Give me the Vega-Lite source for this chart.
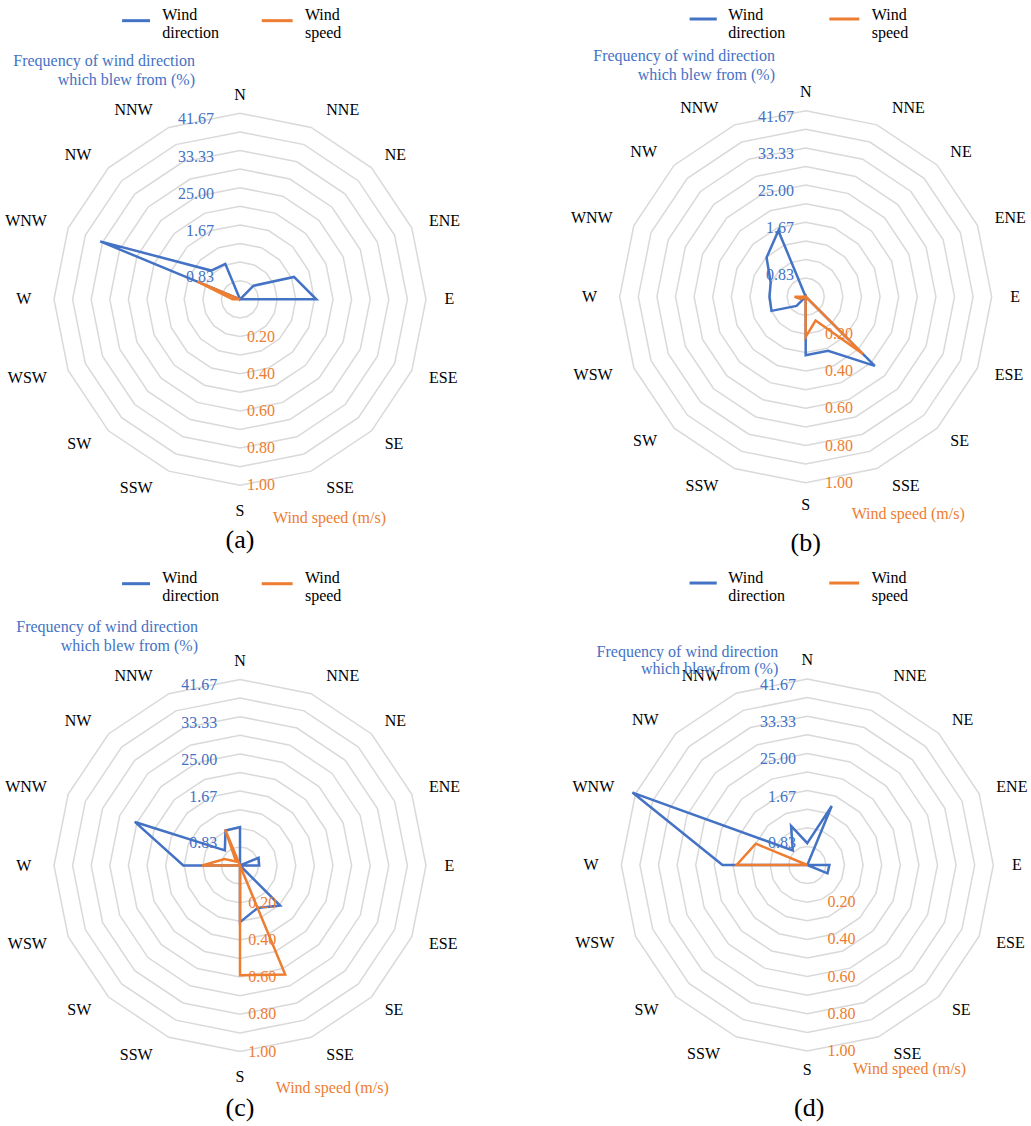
{
"$schema":"https://vega.github.io/schema/vega-lite/v6.json",
"background":"white",
"padding":0,
"spacing":0,
"columns":2,
"bounds":"flush",
"config":{"view":{"stroke":null},"text":{"font":"Liberation Serif","fontSize":16},"concat":{"spacing":0}},
"datasets":{
"rings":[{"k":1,"i":[0,1,2,3,4,5,6,7,8,9,10,11,12,13,14,15]},{"k":2,"i":[0,1,2,3,4,5,6,7,8,9,10,11,12,13,14,15]},{"k":3,"i":[0,1,2,3,4,5,6,7,8,9,10,11,12,13,14,15]},{"k":4,"i":[0,1,2,3,4,5,6,7,8,9,10,11,12,13,14,15]},{"k":5,"i":[0,1,2,3,4,5,6,7,8,9,10,11,12,13,14,15]},{"k":6,"i":[0,1,2,3,4,5,6,7,8,9,10,11,12,13,14,15]},{"k":7,"i":[0,1,2,3,4,5,6,7,8,9,10,11,12,13,14,15]},{"k":8,"i":[0,1,2,3,4,5,6,7,8,9,10,11,12,13,14,15]},{"k":9,"i":[0,1,2,3,4,5,6,7,8,9,10,11,12,13,14,15]},{"k":10,"i":[0,1,2,3,4,5,6,7,8,9,10,11,12,13,14,15]}],
"dirs":[{"d":"N","i":0},{"d":"NNE","i":1},{"d":"NE","i":2},{"d":"ENE","i":3},{"d":"E","i":4},{"d":"ESE","i":5},{"d":"SE","i":6},{"d":"SSE","i":7},{"d":"S","i":8},{"d":"SSW","i":9},{"d":"SW","i":10},{"d":"WSW","i":11},{"d":"W","i":12},{"d":"WNW","i":13},{"d":"NW","i":14},{"d":"NNW","i":15}],
"wa":[{"d":"N","i":0,"f":0,"s":0},{"d":"NNE","i":1,"f":0,"s":0},{"d":"NE","i":2,"f":4.3,"s":0},{"d":"ENE","i":3,"f":13.1,"s":0},{"d":"E","i":4,"f":17.1,"s":0},{"d":"ESE","i":5,"f":0,"s":0},{"d":"SE","i":6,"f":0,"s":0},{"d":"SSE","i":7,"f":0,"s":0},{"d":"S","i":8,"f":0,"s":0},{"d":"SSW","i":9,"f":0,"s":0},{"d":"SW","i":10,"f":0,"s":0},{"d":"WSW","i":11,"f":0,"s":0},{"d":"W","i":12,"f":0,"s":0.04},{"d":"WNW","i":13,"f":33.9,"s":0.25},{"d":"NW","i":14,"f":9.1,"s":0},{"d":"NNW","i":15,"f":8.6,"s":0}],
"wb":[{"d":"N","i":0,"f":0,"s":0},{"d":"NNE","i":1,"f":0,"s":0},{"d":"NE","i":2,"f":0,"s":0},{"d":"ENE","i":3,"f":0,"s":0},{"d":"E","i":4,"f":0,"s":0},{"d":"ESE","i":5,"f":0,"s":0},{"d":"SE","i":6,"f":21.9,"s":0.436},{"d":"SSE","i":7,"f":13.1,"s":0.139},{"d":"S","i":8,"f":13.1,"s":0.216},{"d":"SSW","i":9,"f":0,"s":0},{"d":"SW","i":10,"f":2.9,"s":0},{"d":"WSW","i":11,"f":8.3,"s":0.03},{"d":"W","i":12,"f":8.1,"s":0.06},{"d":"WNW","i":13,"f":8.5,"s":0},{"d":"NW","i":14,"f":12.4,"s":0},{"d":"NNW","i":15,"f":16.0,"s":0}],
"wc":[{"d":"N","i":0,"f":8.6,"s":0},{"d":"NNE","i":1,"f":0,"s":0},{"d":"NE","i":2,"f":0,"s":0},{"d":"ENE","i":3,"f":4.5,"s":0},{"d":"E","i":4,"f":4.3,"s":0},{"d":"ESE","i":5,"f":0,"s":0},{"d":"SE","i":6,"f":12.7,"s":0},{"d":"SSE","i":7,"f":10.3,"s":0.635},{"d":"S","i":8,"f":12.7,"s":0.59},{"d":"SSW","i":9,"f":0,"s":0},{"d":"SW","i":10,"f":0,"s":0},{"d":"WSW","i":11,"f":0,"s":0},{"d":"W","i":12,"f":12.7,"s":0.203},{"d":"WNW","i":13,"f":25.5,"s":0.09},{"d":"NW","i":14,"f":4.8,"s":0.03},{"d":"NNW","i":15,"f":8.5,"s":0.209}],
"wd":[{"d":"N","i":0,"f":4.9,"s":0},{"d":"NNE","i":1,"f":14.3,"s":0},{"d":"NE","i":2,"f":0,"s":0},{"d":"ENE","i":3,"f":0,"s":0},{"d":"E","i":4,"f":4.95,"s":0},{"d":"ESE","i":5,"f":4.9,"s":0},{"d":"SE","i":6,"f":0,"s":0},{"d":"SSE","i":7,"f":0,"s":0},{"d":"S","i":8,"f":0,"s":0},{"d":"SSW","i":9,"f":0,"s":0},{"d":"SW","i":10,"f":0,"s":0},{"d":"WSW","i":11,"f":0,"s":0},{"d":"W","i":12,"f":19.0,"s":0.38},{"d":"WNW","i":13,"f":42.4,"s":0.30},{"d":"NW","i":14,"f":4.6,"s":0},{"d":"NNW","i":15,"f":9.5,"s":0}],
"fticks":[{"t":"41.67","v":41.67},{"t":"33.33","v":33.33},{"t":"25.00","v":25},{"t":"1.67","v":16.67},{"t":"0.83","v":8.33}],
"sticks":[{"t":"0.20","v":0.2},{"t":"0.40","v":0.4},{"t":"0.60","v":0.6},{"t":"0.80","v":0.8},{"t":"1.00","v":1}]
},
"concat":[
{"width":515,"height":563,"layer":[
{"data":{"name":"rings"},"transform":[{"flatten":["i"]},{"calculate":"datum.i*PI/8","as":"ang"},{"calculate":"datum.k/10*sin(datum.ang)","as":"x"},{"calculate":"datum.k/10*cos(datum.ang)","as":"y"}],"mark":{"type":"line","interpolate":"linear-closed","stroke":"#D9D9D9","strokeWidth":1.5},"encoding":{"x":{"field":"x","type":"quantitative","scale":{"domain":[-1.2903,1.4785],"nice":false,"zero":false},"axis":null},"y":{"field":"y","type":"quantitative","scale":{"domain":[-1.4177,1.6091],"nice":false,"zero":false},"axis":null},"detail":{"field":"k","type":"nominal"},"order":{"field":"i","type":"quantitative"}}},
{"data":{"name":"wa"},"transform":[{"calculate":"datum.i*PI/8","as":"ang"},{"calculate":"datum.f/41.67*sin(datum.ang)","as":"x"},{"calculate":"datum.f/41.67*cos(datum.ang)","as":"y"}],"mark":{"type":"line","interpolate":"linear-closed","stroke":"#4472C4","strokeWidth":2.5},"encoding":{"x":{"field":"x","type":"quantitative","scale":{"domain":[-1.2903,1.4785],"nice":false,"zero":false},"axis":null},"y":{"field":"y","type":"quantitative","scale":{"domain":[-1.4177,1.6091],"nice":false,"zero":false},"axis":null},"order":{"field":"i","type":"quantitative"}}},
{"data":{"name":"wa"},"transform":[{"calculate":"datum.i*PI/8","as":"ang"},{"calculate":"datum.s*sin(datum.ang)","as":"x"},{"calculate":"datum.s*cos(datum.ang)","as":"y"}],"mark":{"type":"line","interpolate":"linear-closed","stroke":"#ED7D31","strokeWidth":2.5},"encoding":{"x":{"field":"x","type":"quantitative","scale":{"domain":[-1.2903,1.4785],"nice":false,"zero":false},"axis":null},"y":{"field":"y","type":"quantitative","scale":{"domain":[-1.4177,1.6091],"nice":false,"zero":false},"axis":null},"order":{"field":"i","type":"quantitative"}}},
{"data":{"name":"dirs"},"transform":[{"filter":"datum.i==0"},{"calculate":"datum.i*PI/8","as":"ang"},{"calculate":"1.1*sin(datum.ang)","as":"x"},{"calculate":"1.1*cos(datum.ang)","as":"y"}],"mark":{"type":"text","align":"center","baseline":"middle","fill":"#000"},"encoding":{"x":{"field":"x","type":"quantitative","scale":{"domain":[-1.2903,1.4785],"nice":false,"zero":false},"axis":null},"y":{"field":"y","type":"quantitative","scale":{"domain":[-1.4177,1.6091],"nice":false,"zero":false},"axis":null},"text":{"field":"d","type":"nominal"}}},
{"data":{"name":"dirs"},"transform":[{"filter":"datum.i==8"},{"calculate":"datum.i*PI/8","as":"ang"},{"calculate":"1.1*sin(datum.ang)","as":"x"},{"calculate":"1.1*cos(datum.ang)","as":"y"}],"mark":{"type":"text","align":"center","baseline":"middle","fill":"#000","dy":7},"encoding":{"x":{"field":"x","type":"quantitative","scale":{"domain":[-1.2903,1.4785],"nice":false,"zero":false},"axis":null},"y":{"field":"y","type":"quantitative","scale":{"domain":[-1.4177,1.6091],"nice":false,"zero":false},"axis":null},"text":{"field":"d","type":"nominal"}}},
{"data":{"name":"dirs"},"transform":[{"filter":"datum.i==1||datum.i==7"},{"calculate":"datum.i*PI/8","as":"ang"},{"calculate":"1.1*sin(datum.ang)","as":"x"},{"calculate":"1.1*cos(datum.ang)","as":"y"}],"mark":{"type":"text","align":"left","baseline":"middle","fill":"#000","dx":8},"encoding":{"x":{"field":"x","type":"quantitative","scale":{"domain":[-1.2903,1.4785],"nice":false,"zero":false},"axis":null},"y":{"field":"y","type":"quantitative","scale":{"domain":[-1.4177,1.6091],"nice":false,"zero":false},"axis":null},"text":{"field":"d","type":"nominal"}}},
{"data":{"name":"dirs"},"transform":[{"filter":"datum.i>=2&&datum.i<=6"},{"calculate":"datum.i*PI/8","as":"ang"},{"calculate":"1.1*sin(datum.ang)","as":"x"},{"calculate":"1.1*cos(datum.ang)","as":"y"}],"mark":{"type":"text","align":"left","baseline":"middle","fill":"#000"},"encoding":{"x":{"field":"x","type":"quantitative","scale":{"domain":[-1.2903,1.4785],"nice":false,"zero":false},"axis":null},"y":{"field":"y","type":"quantitative","scale":{"domain":[-1.4177,1.6091],"nice":false,"zero":false},"axis":null},"text":{"field":"d","type":"nominal"}}},
{"data":{"name":"dirs"},"transform":[{"filter":"datum.i==9||datum.i==15"},{"calculate":"datum.i*PI/8","as":"ang"},{"calculate":"1.1*sin(datum.ang)","as":"x"},{"calculate":"1.1*cos(datum.ang)","as":"y"}],"mark":{"type":"text","align":"right","baseline":"middle","fill":"#000","dx":-9},"encoding":{"x":{"field":"x","type":"quantitative","scale":{"domain":[-1.2903,1.4785],"nice":false,"zero":false},"axis":null},"y":{"field":"y","type":"quantitative","scale":{"domain":[-1.4177,1.6091],"nice":false,"zero":false},"axis":null},"text":{"field":"d","type":"nominal"}}},
{"data":{"name":"dirs"},"transform":[{"filter":"datum.i>=10&&datum.i<=14"},{"calculate":"datum.i*PI/8","as":"ang"},{"calculate":"1.1*sin(datum.ang)","as":"x"},{"calculate":"1.1*cos(datum.ang)","as":"y"}],"mark":{"type":"text","align":"right","baseline":"middle","fill":"#000","dx":-4},"encoding":{"x":{"field":"x","type":"quantitative","scale":{"domain":[-1.2903,1.4785],"nice":false,"zero":false},"axis":null},"y":{"field":"y","type":"quantitative","scale":{"domain":[-1.4177,1.6091],"nice":false,"zero":false},"axis":null},"text":{"field":"d","type":"nominal"}}},
{"data":{"name":"fticks"},"transform":[{"filter":"datum.v>10"},{"calculate":"datum.v/41.67","as":"y"}],"mark":{"type":"text","align":"right","baseline":"middle","fill":"#4472C4","dy":6},"encoding":{"x":{"datum":-0.14,"type":"quantitative","scale":{"domain":[-1.2903,1.4785],"nice":false,"zero":false},"axis":null},"y":{"field":"y","type":"quantitative","scale":{"domain":[-1.4177,1.6091],"nice":false,"zero":false},"axis":null},"text":{"field":"t","type":"nominal"}}},
{"data":{"name":"fticks"},"transform":[{"filter":"datum.v<10"},{"calculate":"datum.v/41.67","as":"y"}],"mark":{"type":"text","align":"right","baseline":"middle","fill":"#4472C4","dy":15},"encoding":{"x":{"datum":-0.14,"type":"quantitative","scale":{"domain":[-1.2903,1.4785],"nice":false,"zero":false},"axis":null},"y":{"field":"y","type":"quantitative","scale":{"domain":[-1.4177,1.6091],"nice":false,"zero":false},"axis":null},"text":{"field":"t","type":"nominal"}}},
{"data":{"name":"sticks"},"transform":[{"calculate":"-datum.v","as":"y"}],"mark":{"type":"text","align":"left","baseline":"middle","fill":"#ED7D31"},"encoding":{"x":{"datum":0.038,"type":"quantitative","scale":{"domain":[-1.2903,1.4785],"nice":false,"zero":false},"axis":null},"y":{"field":"y","type":"quantitative","scale":{"domain":[-1.4177,1.6091],"nice":false,"zero":false},"axis":null},"text":{"field":"t","type":"nominal"}}},
{"data":{"values":[{}]},"mark":{"type":"rule","stroke":"#4472C4","strokeWidth":3},"encoding":{"x":{"datum":-0.634,"type":"quantitative","scale":{"domain":[-1.2903,1.4785],"nice":false,"zero":false},"axis":null},"x2":{"datum":-0.484},"y":{"datum":1.498,"type":"quantitative","scale":{"domain":[-1.4177,1.6091],"nice":false,"zero":false},"axis":null}}},
{"data":{"values":[{}]},"mark":{"type":"rule","stroke":"#ED7D31","strokeWidth":3},"encoding":{"x":{"datum":0.117,"type":"quantitative","scale":{"domain":[-1.2903,1.4785],"nice":false,"zero":false},"axis":null},"x2":{"datum":0.283},"y":{"datum":1.498,"type":"quantitative","scale":{"domain":[-1.4177,1.6091],"nice":false,"zero":false},"axis":null}}},
{"data":{"values":[{}]},"mark":{"type":"text","align":"left","baseline":"middle","fill":"#000"},"encoding":{"x":{"datum":-0.418,"type":"quantitative","scale":{"domain":[-1.2903,1.4785],"nice":false,"zero":false},"axis":null},"y":{"datum":1.529,"type":"quantitative","scale":{"domain":[-1.4177,1.6091],"nice":false,"zero":false},"axis":null},"text":{"value":"Wind"}}},
{"data":{"values":[{}]},"mark":{"type":"text","align":"left","baseline":"middle","fill":"#000"},"encoding":{"x":{"datum":-0.418,"type":"quantitative","scale":{"domain":[-1.2903,1.4785],"nice":false,"zero":false},"axis":null},"y":{"datum":1.43,"type":"quantitative","scale":{"domain":[-1.4177,1.6091],"nice":false,"zero":false},"axis":null},"text":{"value":"direction"}}},
{"data":{"values":[{}]},"mark":{"type":"text","align":"left","baseline":"middle","fill":"#000"},"encoding":{"x":{"datum":0.349,"type":"quantitative","scale":{"domain":[-1.2903,1.4785],"nice":false,"zero":false},"axis":null},"y":{"datum":1.529,"type":"quantitative","scale":{"domain":[-1.4177,1.6091],"nice":false,"zero":false},"axis":null},"text":{"value":"Wind"}}},
{"data":{"values":[{}]},"mark":{"type":"text","align":"left","baseline":"middle","fill":"#000"},"encoding":{"x":{"datum":0.349,"type":"quantitative","scale":{"domain":[-1.2903,1.4785],"nice":false,"zero":false},"axis":null},"y":{"datum":1.43,"type":"quantitative","scale":{"domain":[-1.4177,1.6091],"nice":false,"zero":false},"axis":null},"text":{"value":"speed"}}},
{"data":{"values":[{}]},"mark":{"type":"text","align":"right","baseline":"middle","fill":"#4472C4"},"encoding":{"x":{"datum":-0.242,"type":"quantitative","scale":{"domain":[-1.2903,1.4785],"nice":false,"zero":false},"axis":null},"y":{"datum":1.283,"type":"quantitative","scale":{"domain":[-1.4177,1.6091],"nice":false,"zero":false},"axis":null},"text":{"value":"Frequency of wind direction"}}},
{"data":{"values":[{}]},"mark":{"type":"text","align":"right","baseline":"middle","fill":"#4472C4"},"encoding":{"x":{"datum":-0.242,"type":"quantitative","scale":{"domain":[-1.2903,1.4785],"nice":false,"zero":false},"axis":null},"y":{"datum":1.179,"type":"quantitative","scale":{"domain":[-1.4177,1.6091],"nice":false,"zero":false},"axis":null},"text":{"value":"which blew from (%)"}}},
{"data":{"values":[{}]},"mark":{"type":"text","align":"left","baseline":"middle","fill":"#ED7D31"},"encoding":{"x":{"datum":0.177,"type":"quantitative","scale":{"domain":[-1.2903,1.4785],"nice":false,"zero":false},"axis":null},"y":{"datum":-1.177,"type":"quantitative","scale":{"domain":[-1.4177,1.6091],"nice":false,"zero":false},"axis":null},"text":{"value":"Wind speed (m/s)"}}},
{"data":{"values":[{}]},"mark":{"type":"text","align":"center","baseline":"middle","fill":"#000","fontSize":26},"encoding":{"x":{"datum":0,"type":"quantitative","scale":{"domain":[-1.2903,1.4785],"nice":false,"zero":false},"axis":null},"y":{"datum":-1.296,"type":"quantitative","scale":{"domain":[-1.4177,1.6091],"nice":false,"zero":false},"axis":null},"text":{"value":"(a)"}}}
]},
{"width":516,"height":563,"layer":[
{"data":{"name":"rings"},"transform":[{"flatten":["i"]},{"calculate":"datum.i*PI/8","as":"ang"},{"calculate":"datum.k/10*sin(datum.ang)","as":"x"},{"calculate":"datum.k/10*cos(datum.ang)","as":"y"}],"mark":{"type":"line","interpolate":"linear-closed","stroke":"#D9D9D9","strokeWidth":1.5},"encoding":{"x":{"field":"x","type":"quantitative","scale":{"domain":[-1.5629,1.2113],"nice":false,"zero":false},"axis":null},"y":{"field":"y","type":"quantitative","scale":{"domain":[-1.4317,1.5952],"nice":false,"zero":false},"axis":null},"detail":{"field":"k","type":"nominal"},"order":{"field":"i","type":"quantitative"}}},
{"data":{"name":"wb"},"transform":[{"calculate":"datum.i*PI/8","as":"ang"},{"calculate":"datum.f/41.67*sin(datum.ang)","as":"x"},{"calculate":"datum.f/41.67*cos(datum.ang)","as":"y"}],"mark":{"type":"line","interpolate":"linear-closed","stroke":"#4472C4","strokeWidth":2.5},"encoding":{"x":{"field":"x","type":"quantitative","scale":{"domain":[-1.5629,1.2113],"nice":false,"zero":false},"axis":null},"y":{"field":"y","type":"quantitative","scale":{"domain":[-1.4317,1.5952],"nice":false,"zero":false},"axis":null},"order":{"field":"i","type":"quantitative"}}},
{"data":{"name":"wb"},"transform":[{"calculate":"datum.i*PI/8","as":"ang"},{"calculate":"datum.s*sin(datum.ang)","as":"x"},{"calculate":"datum.s*cos(datum.ang)","as":"y"}],"mark":{"type":"line","interpolate":"linear-closed","stroke":"#ED7D31","strokeWidth":2.5},"encoding":{"x":{"field":"x","type":"quantitative","scale":{"domain":[-1.5629,1.2113],"nice":false,"zero":false},"axis":null},"y":{"field":"y","type":"quantitative","scale":{"domain":[-1.4317,1.5952],"nice":false,"zero":false},"axis":null},"order":{"field":"i","type":"quantitative"}}},
{"data":{"name":"dirs"},"transform":[{"filter":"datum.i==0"},{"calculate":"datum.i*PI/8","as":"ang"},{"calculate":"1.1*sin(datum.ang)","as":"x"},{"calculate":"1.1*cos(datum.ang)","as":"y"}],"mark":{"type":"text","align":"center","baseline":"middle","fill":"#000"},"encoding":{"x":{"field":"x","type":"quantitative","scale":{"domain":[-1.5629,1.2113],"nice":false,"zero":false},"axis":null},"y":{"field":"y","type":"quantitative","scale":{"domain":[-1.4317,1.5952],"nice":false,"zero":false},"axis":null},"text":{"field":"d","type":"nominal"}}},
{"data":{"name":"dirs"},"transform":[{"filter":"datum.i==8"},{"calculate":"datum.i*PI/8","as":"ang"},{"calculate":"1.1*sin(datum.ang)","as":"x"},{"calculate":"1.1*cos(datum.ang)","as":"y"}],"mark":{"type":"text","align":"center","baseline":"middle","fill":"#000","dy":4},"encoding":{"x":{"field":"x","type":"quantitative","scale":{"domain":[-1.5629,1.2113],"nice":false,"zero":false},"axis":null},"y":{"field":"y","type":"quantitative","scale":{"domain":[-1.4317,1.5952],"nice":false,"zero":false},"axis":null},"text":{"field":"d","type":"nominal"}}},
{"data":{"name":"dirs"},"transform":[{"filter":"datum.i==1||datum.i==7"},{"calculate":"datum.i*PI/8","as":"ang"},{"calculate":"1.1*sin(datum.ang)","as":"x"},{"calculate":"1.1*cos(datum.ang)","as":"y"}],"mark":{"type":"text","align":"left","baseline":"middle","fill":"#000","dx":8},"encoding":{"x":{"field":"x","type":"quantitative","scale":{"domain":[-1.5629,1.2113],"nice":false,"zero":false},"axis":null},"y":{"field":"y","type":"quantitative","scale":{"domain":[-1.4317,1.5952],"nice":false,"zero":false},"axis":null},"text":{"field":"d","type":"nominal"}}},
{"data":{"name":"dirs"},"transform":[{"filter":"datum.i>=2&&datum.i<=6"},{"calculate":"datum.i*PI/8","as":"ang"},{"calculate":"1.1*sin(datum.ang)","as":"x"},{"calculate":"1.1*cos(datum.ang)","as":"y"}],"mark":{"type":"text","align":"left","baseline":"middle","fill":"#000"},"encoding":{"x":{"field":"x","type":"quantitative","scale":{"domain":[-1.5629,1.2113],"nice":false,"zero":false},"axis":null},"y":{"field":"y","type":"quantitative","scale":{"domain":[-1.4317,1.5952],"nice":false,"zero":false},"axis":null},"text":{"field":"d","type":"nominal"}}},
{"data":{"name":"dirs"},"transform":[{"filter":"datum.i==9||datum.i==15"},{"calculate":"datum.i*PI/8","as":"ang"},{"calculate":"1.1*sin(datum.ang)","as":"x"},{"calculate":"1.1*cos(datum.ang)","as":"y"}],"mark":{"type":"text","align":"right","baseline":"middle","fill":"#000","dx":-9},"encoding":{"x":{"field":"x","type":"quantitative","scale":{"domain":[-1.5629,1.2113],"nice":false,"zero":false},"axis":null},"y":{"field":"y","type":"quantitative","scale":{"domain":[-1.4317,1.5952],"nice":false,"zero":false},"axis":null},"text":{"field":"d","type":"nominal"}}},
{"data":{"name":"dirs"},"transform":[{"filter":"datum.i>=10&&datum.i<=14"},{"calculate":"datum.i*PI/8","as":"ang"},{"calculate":"1.1*sin(datum.ang)","as":"x"},{"calculate":"1.1*cos(datum.ang)","as":"y"}],"mark":{"type":"text","align":"right","baseline":"middle","fill":"#000","dx":-4},"encoding":{"x":{"field":"x","type":"quantitative","scale":{"domain":[-1.5629,1.2113],"nice":false,"zero":false},"axis":null},"y":{"field":"y","type":"quantitative","scale":{"domain":[-1.4317,1.5952],"nice":false,"zero":false},"axis":null},"text":{"field":"d","type":"nominal"}}},
{"data":{"name":"fticks"},"transform":[{"filter":"datum.v>10"},{"calculate":"datum.v/41.67","as":"y"}],"mark":{"type":"text","align":"right","baseline":"middle","fill":"#4472C4","dy":6},"encoding":{"x":{"datum":-0.063,"type":"quantitative","scale":{"domain":[-1.5629,1.2113],"nice":false,"zero":false},"axis":null},"y":{"field":"y","type":"quantitative","scale":{"domain":[-1.4317,1.5952],"nice":false,"zero":false},"axis":null},"text":{"field":"t","type":"nominal"}}},
{"data":{"name":"fticks"},"transform":[{"filter":"datum.v<10"},{"calculate":"datum.v/41.67","as":"y"}],"mark":{"type":"text","align":"right","baseline":"middle","fill":"#4472C4","dy":15},"encoding":{"x":{"datum":-0.063,"type":"quantitative","scale":{"domain":[-1.5629,1.2113],"nice":false,"zero":false},"axis":null},"y":{"field":"y","type":"quantitative","scale":{"domain":[-1.4317,1.5952],"nice":false,"zero":false},"axis":null},"text":{"field":"t","type":"nominal"}}},
{"data":{"name":"sticks"},"transform":[{"calculate":"-datum.v","as":"y"}],"mark":{"type":"text","align":"left","baseline":"middle","fill":"#ED7D31"},"encoding":{"x":{"datum":0.104,"type":"quantitative","scale":{"domain":[-1.5629,1.2113],"nice":false,"zero":false},"axis":null},"y":{"field":"y","type":"quantitative","scale":{"domain":[-1.4317,1.5952],"nice":false,"zero":false},"axis":null},"text":{"field":"t","type":"nominal"}}},
{"data":{"values":[{}]},"mark":{"type":"rule","stroke":"#4472C4","strokeWidth":3},"encoding":{"x":{"datum":-0.624,"type":"quantitative","scale":{"domain":[-1.5629,1.2113],"nice":false,"zero":false},"axis":null},"x2":{"datum":-0.478},"y":{"datum":1.493,"type":"quantitative","scale":{"domain":[-1.4317,1.5952],"nice":false,"zero":false},"axis":null}}},
{"data":{"values":[{}]},"mark":{"type":"rule","stroke":"#ED7D31","strokeWidth":3},"encoding":{"x":{"datum":0.127,"type":"quantitative","scale":{"domain":[-1.5629,1.2113],"nice":false,"zero":false},"axis":null},"x2":{"datum":0.288},"y":{"datum":1.493,"type":"quantitative","scale":{"domain":[-1.4317,1.5952],"nice":false,"zero":false},"axis":null}}},
{"data":{"values":[{}]},"mark":{"type":"text","align":"left","baseline":"middle","fill":"#000"},"encoding":{"x":{"datum":-0.416,"type":"quantitative","scale":{"domain":[-1.5629,1.2113],"nice":false,"zero":false},"axis":null},"y":{"datum":1.515,"type":"quantitative","scale":{"domain":[-1.4317,1.5952],"nice":false,"zero":false},"axis":null},"text":{"value":"Wind"}}},
{"data":{"values":[{}]},"mark":{"type":"text","align":"left","baseline":"middle","fill":"#000"},"encoding":{"x":{"datum":-0.416,"type":"quantitative","scale":{"domain":[-1.5629,1.2113],"nice":false,"zero":false},"axis":null},"y":{"datum":1.416,"type":"quantitative","scale":{"domain":[-1.4317,1.5952],"nice":false,"zero":false},"axis":null},"text":{"value":"direction"}}},
{"data":{"values":[{}]},"mark":{"type":"text","align":"left","baseline":"middle","fill":"#000"},"encoding":{"x":{"datum":0.355,"type":"quantitative","scale":{"domain":[-1.5629,1.2113],"nice":false,"zero":false},"axis":null},"y":{"datum":1.515,"type":"quantitative","scale":{"domain":[-1.4317,1.5952],"nice":false,"zero":false},"axis":null},"text":{"value":"Wind"}}},
{"data":{"values":[{}]},"mark":{"type":"text","align":"left","baseline":"middle","fill":"#000"},"encoding":{"x":{"datum":0.355,"type":"quantitative","scale":{"domain":[-1.5629,1.2113],"nice":false,"zero":false},"axis":null},"y":{"datum":1.416,"type":"quantitative","scale":{"domain":[-1.4317,1.5952],"nice":false,"zero":false},"axis":null},"text":{"value":"speed"}}},
{"data":{"values":[{}]},"mark":{"type":"text","align":"right","baseline":"middle","fill":"#4472C4"},"encoding":{"x":{"datum":-0.165,"type":"quantitative","scale":{"domain":[-1.5629,1.2113],"nice":false,"zero":false},"axis":null},"y":{"datum":1.294,"type":"quantitative","scale":{"domain":[-1.4317,1.5952],"nice":false,"zero":false},"axis":null},"text":{"value":"Frequency of wind direction"}}},
{"data":{"values":[{}]},"mark":{"type":"text","align":"right","baseline":"middle","fill":"#4472C4"},"encoding":{"x":{"datum":-0.165,"type":"quantitative","scale":{"domain":[-1.5629,1.2113],"nice":false,"zero":false},"axis":null},"y":{"datum":1.192,"type":"quantitative","scale":{"domain":[-1.4317,1.5952],"nice":false,"zero":false},"axis":null},"text":{"value":"which blew from (%)"}}},
{"data":{"values":[{}]},"mark":{"type":"text","align":"left","baseline":"middle","fill":"#ED7D31"},"encoding":{"x":{"datum":0.247,"type":"quantitative","scale":{"domain":[-1.5629,1.2113],"nice":false,"zero":false},"axis":null},"y":{"datum":-1.167,"type":"quantitative","scale":{"domain":[-1.4317,1.5952],"nice":false,"zero":false},"axis":null},"text":{"value":"Wind speed (m/s)"}}},
{"data":{"values":[{}]},"mark":{"type":"text","align":"center","baseline":"middle","fill":"#000","fontSize":26},"encoding":{"x":{"datum":0,"type":"quantitative","scale":{"domain":[-1.5629,1.2113],"nice":false,"zero":false},"axis":null},"y":{"datum":-1.323,"type":"quantitative","scale":{"domain":[-1.4317,1.5952],"nice":false,"zero":false},"axis":null},"text":{"value":"(b)"}}}
]},
{"width":515,"height":563,"layer":[
{"data":{"name":"rings"},"transform":[{"flatten":["i"]},{"calculate":"datum.i*PI/8","as":"ang"},{"calculate":"datum.k/10*sin(datum.ang)","as":"x"},{"calculate":"datum.k/10*cos(datum.ang)","as":"y"}],"mark":{"type":"line","interpolate":"linear-closed","stroke":"#D9D9D9","strokeWidth":1.5},"encoding":{"x":{"field":"x","type":"quantitative","scale":{"domain":[-1.2903,1.4785],"nice":false,"zero":false},"axis":null},"y":{"field":"y","type":"quantitative","scale":{"domain":[-1.4005,1.6263],"nice":false,"zero":false},"axis":null},"detail":{"field":"k","type":"nominal"},"order":{"field":"i","type":"quantitative"}}},
{"data":{"name":"wc"},"transform":[{"calculate":"datum.i*PI/8","as":"ang"},{"calculate":"datum.f/41.67*sin(datum.ang)","as":"x"},{"calculate":"datum.f/41.67*cos(datum.ang)","as":"y"}],"mark":{"type":"line","interpolate":"linear-closed","stroke":"#4472C4","strokeWidth":2.5},"encoding":{"x":{"field":"x","type":"quantitative","scale":{"domain":[-1.2903,1.4785],"nice":false,"zero":false},"axis":null},"y":{"field":"y","type":"quantitative","scale":{"domain":[-1.4005,1.6263],"nice":false,"zero":false},"axis":null},"order":{"field":"i","type":"quantitative"}}},
{"data":{"name":"wc"},"transform":[{"calculate":"datum.i*PI/8","as":"ang"},{"calculate":"datum.s*sin(datum.ang)","as":"x"},{"calculate":"datum.s*cos(datum.ang)","as":"y"}],"mark":{"type":"line","interpolate":"linear-closed","stroke":"#ED7D31","strokeWidth":2.5},"encoding":{"x":{"field":"x","type":"quantitative","scale":{"domain":[-1.2903,1.4785],"nice":false,"zero":false},"axis":null},"y":{"field":"y","type":"quantitative","scale":{"domain":[-1.4005,1.6263],"nice":false,"zero":false},"axis":null},"order":{"field":"i","type":"quantitative"}}},
{"data":{"name":"dirs"},"transform":[{"filter":"datum.i==0"},{"calculate":"datum.i*PI/8","as":"ang"},{"calculate":"1.1*sin(datum.ang)","as":"x"},{"calculate":"1.1*cos(datum.ang)","as":"y"}],"mark":{"type":"text","align":"center","baseline":"middle","fill":"#000"},"encoding":{"x":{"field":"x","type":"quantitative","scale":{"domain":[-1.2903,1.4785],"nice":false,"zero":false},"axis":null},"y":{"field":"y","type":"quantitative","scale":{"domain":[-1.4005,1.6263],"nice":false,"zero":false},"axis":null},"text":{"field":"d","type":"nominal"}}},
{"data":{"name":"dirs"},"transform":[{"filter":"datum.i==8"},{"calculate":"datum.i*PI/8","as":"ang"},{"calculate":"1.1*sin(datum.ang)","as":"x"},{"calculate":"1.1*cos(datum.ang)","as":"y"}],"mark":{"type":"text","align":"center","baseline":"middle","fill":"#000","dy":7},"encoding":{"x":{"field":"x","type":"quantitative","scale":{"domain":[-1.2903,1.4785],"nice":false,"zero":false},"axis":null},"y":{"field":"y","type":"quantitative","scale":{"domain":[-1.4005,1.6263],"nice":false,"zero":false},"axis":null},"text":{"field":"d","type":"nominal"}}},
{"data":{"name":"dirs"},"transform":[{"filter":"datum.i==1||datum.i==7"},{"calculate":"datum.i*PI/8","as":"ang"},{"calculate":"1.1*sin(datum.ang)","as":"x"},{"calculate":"1.1*cos(datum.ang)","as":"y"}],"mark":{"type":"text","align":"left","baseline":"middle","fill":"#000","dx":8},"encoding":{"x":{"field":"x","type":"quantitative","scale":{"domain":[-1.2903,1.4785],"nice":false,"zero":false},"axis":null},"y":{"field":"y","type":"quantitative","scale":{"domain":[-1.4005,1.6263],"nice":false,"zero":false},"axis":null},"text":{"field":"d","type":"nominal"}}},
{"data":{"name":"dirs"},"transform":[{"filter":"datum.i>=2&&datum.i<=6"},{"calculate":"datum.i*PI/8","as":"ang"},{"calculate":"1.1*sin(datum.ang)","as":"x"},{"calculate":"1.1*cos(datum.ang)","as":"y"}],"mark":{"type":"text","align":"left","baseline":"middle","fill":"#000"},"encoding":{"x":{"field":"x","type":"quantitative","scale":{"domain":[-1.2903,1.4785],"nice":false,"zero":false},"axis":null},"y":{"field":"y","type":"quantitative","scale":{"domain":[-1.4005,1.6263],"nice":false,"zero":false},"axis":null},"text":{"field":"d","type":"nominal"}}},
{"data":{"name":"dirs"},"transform":[{"filter":"datum.i==9||datum.i==15"},{"calculate":"datum.i*PI/8","as":"ang"},{"calculate":"1.1*sin(datum.ang)","as":"x"},{"calculate":"1.1*cos(datum.ang)","as":"y"}],"mark":{"type":"text","align":"right","baseline":"middle","fill":"#000","dx":-9},"encoding":{"x":{"field":"x","type":"quantitative","scale":{"domain":[-1.2903,1.4785],"nice":false,"zero":false},"axis":null},"y":{"field":"y","type":"quantitative","scale":{"domain":[-1.4005,1.6263],"nice":false,"zero":false},"axis":null},"text":{"field":"d","type":"nominal"}}},
{"data":{"name":"dirs"},"transform":[{"filter":"datum.i>=10&&datum.i<=14"},{"calculate":"datum.i*PI/8","as":"ang"},{"calculate":"1.1*sin(datum.ang)","as":"x"},{"calculate":"1.1*cos(datum.ang)","as":"y"}],"mark":{"type":"text","align":"right","baseline":"middle","fill":"#000","dx":-4},"encoding":{"x":{"field":"x","type":"quantitative","scale":{"domain":[-1.2903,1.4785],"nice":false,"zero":false},"axis":null},"y":{"field":"y","type":"quantitative","scale":{"domain":[-1.4005,1.6263],"nice":false,"zero":false},"axis":null},"text":{"field":"d","type":"nominal"}}},
{"data":{"name":"fticks"},"transform":[{"filter":"datum.v>10"},{"calculate":"datum.v/41.67","as":"y"}],"mark":{"type":"text","align":"right","baseline":"middle","fill":"#4472C4","dy":6},"encoding":{"x":{"datum":-0.122,"type":"quantitative","scale":{"domain":[-1.2903,1.4785],"nice":false,"zero":false},"axis":null},"y":{"field":"y","type":"quantitative","scale":{"domain":[-1.4005,1.6263],"nice":false,"zero":false},"axis":null},"text":{"field":"t","type":"nominal"}}},
{"data":{"name":"fticks"},"transform":[{"filter":"datum.v<10"},{"calculate":"datum.v/41.67","as":"y"}],"mark":{"type":"text","align":"right","baseline":"middle","fill":"#4472C4","dy":15},"encoding":{"x":{"datum":-0.122,"type":"quantitative","scale":{"domain":[-1.2903,1.4785],"nice":false,"zero":false},"axis":null},"y":{"field":"y","type":"quantitative","scale":{"domain":[-1.4005,1.6263],"nice":false,"zero":false},"axis":null},"text":{"field":"t","type":"nominal"}}},
{"data":{"name":"sticks"},"transform":[{"calculate":"-datum.v","as":"y"}],"mark":{"type":"text","align":"left","baseline":"middle","fill":"#ED7D31"},"encoding":{"x":{"datum":0.045,"type":"quantitative","scale":{"domain":[-1.2903,1.4785],"nice":false,"zero":false},"axis":null},"y":{"field":"y","type":"quantitative","scale":{"domain":[-1.4005,1.6263],"nice":false,"zero":false},"axis":null},"text":{"field":"t","type":"nominal"}}},
{"data":{"values":[{}]},"mark":{"type":"rule","stroke":"#4472C4","strokeWidth":3},"encoding":{"x":{"datum":-0.634,"type":"quantitative","scale":{"domain":[-1.2903,1.4785],"nice":false,"zero":false},"axis":null},"x2":{"datum":-0.484},"y":{"datum":1.515,"type":"quantitative","scale":{"domain":[-1.4005,1.6263],"nice":false,"zero":false},"axis":null}}},
{"data":{"values":[{}]},"mark":{"type":"rule","stroke":"#ED7D31","strokeWidth":3},"encoding":{"x":{"datum":0.117,"type":"quantitative","scale":{"domain":[-1.2903,1.4785],"nice":false,"zero":false},"axis":null},"x2":{"datum":0.283},"y":{"datum":1.515,"type":"quantitative","scale":{"domain":[-1.4005,1.6263],"nice":false,"zero":false},"axis":null}}},
{"data":{"values":[{}]},"mark":{"type":"text","align":"left","baseline":"middle","fill":"#000"},"encoding":{"x":{"datum":-0.418,"type":"quantitative","scale":{"domain":[-1.2903,1.4785],"nice":false,"zero":false},"axis":null},"y":{"datum":1.546,"type":"quantitative","scale":{"domain":[-1.4005,1.6263],"nice":false,"zero":false},"axis":null},"text":{"value":"Wind"}}},
{"data":{"values":[{}]},"mark":{"type":"text","align":"left","baseline":"middle","fill":"#000"},"encoding":{"x":{"datum":-0.418,"type":"quantitative","scale":{"domain":[-1.2903,1.4785],"nice":false,"zero":false},"axis":null},"y":{"datum":1.447,"type":"quantitative","scale":{"domain":[-1.4005,1.6263],"nice":false,"zero":false},"axis":null},"text":{"value":"direction"}}},
{"data":{"values":[{}]},"mark":{"type":"text","align":"left","baseline":"middle","fill":"#000"},"encoding":{"x":{"datum":0.349,"type":"quantitative","scale":{"domain":[-1.2903,1.4785],"nice":false,"zero":false},"axis":null},"y":{"datum":1.546,"type":"quantitative","scale":{"domain":[-1.4005,1.6263],"nice":false,"zero":false},"axis":null},"text":{"value":"Wind"}}},
{"data":{"values":[{}]},"mark":{"type":"text","align":"left","baseline":"middle","fill":"#000"},"encoding":{"x":{"datum":0.349,"type":"quantitative","scale":{"domain":[-1.2903,1.4785],"nice":false,"zero":false},"axis":null},"y":{"datum":1.447,"type":"quantitative","scale":{"domain":[-1.4005,1.6263],"nice":false,"zero":false},"axis":null},"text":{"value":"speed"}}},
{"data":{"values":[{}]},"mark":{"type":"text","align":"right","baseline":"middle","fill":"#4472C4"},"encoding":{"x":{"datum":-0.226,"type":"quantitative","scale":{"domain":[-1.2903,1.4785],"nice":false,"zero":false},"axis":null},"y":{"datum":1.282,"type":"quantitative","scale":{"domain":[-1.4005,1.6263],"nice":false,"zero":false},"axis":null},"text":{"value":"Frequency of wind direction"}}},
{"data":{"values":[{}]},"mark":{"type":"text","align":"right","baseline":"middle","fill":"#4472C4"},"encoding":{"x":{"datum":-0.226,"type":"quantitative","scale":{"domain":[-1.2903,1.4785],"nice":false,"zero":false},"axis":null},"y":{"datum":1.18,"type":"quantitative","scale":{"domain":[-1.4005,1.6263],"nice":false,"zero":false},"axis":null},"text":{"value":"which blew from (%)"}}},
{"data":{"values":[{}]},"mark":{"type":"text","align":"left","baseline":"middle","fill":"#ED7D31"},"encoding":{"x":{"datum":0.192,"type":"quantitative","scale":{"domain":[-1.2903,1.4785],"nice":false,"zero":false},"axis":null},"y":{"datum":-1.198,"type":"quantitative","scale":{"domain":[-1.4005,1.6263],"nice":false,"zero":false},"axis":null},"text":{"value":"Wind speed (m/s)"}}},
{"data":{"values":[{}]},"mark":{"type":"text","align":"center","baseline":"middle","fill":"#000","fontSize":26},"encoding":{"x":{"datum":0,"type":"quantitative","scale":{"domain":[-1.2903,1.4785],"nice":false,"zero":false},"axis":null},"y":{"datum":-1.305,"type":"quantitative","scale":{"domain":[-1.4005,1.6263],"nice":false,"zero":false},"axis":null},"text":{"value":"(c)"}}}
]},
{"width":516,"height":563,"layer":[
{"data":{"name":"rings"},"transform":[{"flatten":["i"]},{"calculate":"datum.i*PI/8","as":"ang"},{"calculate":"datum.k/10*sin(datum.ang)","as":"x"},{"calculate":"datum.k/10*cos(datum.ang)","as":"y"}],"mark":{"type":"line","interpolate":"linear-closed","stroke":"#D9D9D9","strokeWidth":1.5},"encoding":{"x":{"field":"x","type":"quantitative","scale":{"domain":[-1.5715,1.2027],"nice":false,"zero":false},"axis":null},"y":{"field":"y","type":"quantitative","scale":{"domain":[-1.4032,1.6237],"nice":false,"zero":false},"axis":null},"detail":{"field":"k","type":"nominal"},"order":{"field":"i","type":"quantitative"}}},
{"data":{"name":"wd"},"transform":[{"calculate":"datum.i*PI/8","as":"ang"},{"calculate":"datum.f/41.67*sin(datum.ang)","as":"x"},{"calculate":"datum.f/41.67*cos(datum.ang)","as":"y"}],"mark":{"type":"line","interpolate":"linear-closed","stroke":"#4472C4","strokeWidth":2.5},"encoding":{"x":{"field":"x","type":"quantitative","scale":{"domain":[-1.5715,1.2027],"nice":false,"zero":false},"axis":null},"y":{"field":"y","type":"quantitative","scale":{"domain":[-1.4032,1.6237],"nice":false,"zero":false},"axis":null},"order":{"field":"i","type":"quantitative"}}},
{"data":{"name":"wd"},"transform":[{"calculate":"datum.i*PI/8","as":"ang"},{"calculate":"datum.s*sin(datum.ang)","as":"x"},{"calculate":"datum.s*cos(datum.ang)","as":"y"}],"mark":{"type":"line","interpolate":"linear-closed","stroke":"#ED7D31","strokeWidth":2.5},"encoding":{"x":{"field":"x","type":"quantitative","scale":{"domain":[-1.5715,1.2027],"nice":false,"zero":false},"axis":null},"y":{"field":"y","type":"quantitative","scale":{"domain":[-1.4032,1.6237],"nice":false,"zero":false},"axis":null},"order":{"field":"i","type":"quantitative"}}},
{"data":{"name":"dirs"},"transform":[{"filter":"datum.i==0"},{"calculate":"datum.i*PI/8","as":"ang"},{"calculate":"1.1*sin(datum.ang)","as":"x"},{"calculate":"1.1*cos(datum.ang)","as":"y"}],"mark":{"type":"text","align":"center","baseline":"middle","fill":"#000"},"encoding":{"x":{"field":"x","type":"quantitative","scale":{"domain":[-1.5715,1.2027],"nice":false,"zero":false},"axis":null},"y":{"field":"y","type":"quantitative","scale":{"domain":[-1.4032,1.6237],"nice":false,"zero":false},"axis":null},"text":{"field":"d","type":"nominal"}}},
{"data":{"name":"dirs"},"transform":[{"filter":"datum.i==8"},{"calculate":"datum.i*PI/8","as":"ang"},{"calculate":"1.1*sin(datum.ang)","as":"x"},{"calculate":"1.1*cos(datum.ang)","as":"y"}],"mark":{"type":"text","align":"center","baseline":"middle","fill":"#000","dy":0},"encoding":{"x":{"field":"x","type":"quantitative","scale":{"domain":[-1.5715,1.2027],"nice":false,"zero":false},"axis":null},"y":{"field":"y","type":"quantitative","scale":{"domain":[-1.4032,1.6237],"nice":false,"zero":false},"axis":null},"text":{"field":"d","type":"nominal"}}},
{"data":{"name":"dirs"},"transform":[{"filter":"datum.i==1||datum.i==7"},{"calculate":"datum.i*PI/8","as":"ang"},{"calculate":"1.1*sin(datum.ang)","as":"x"},{"calculate":"1.1*cos(datum.ang)","as":"y"}],"mark":{"type":"text","align":"left","baseline":"middle","fill":"#000","dx":8},"encoding":{"x":{"field":"x","type":"quantitative","scale":{"domain":[-1.5715,1.2027],"nice":false,"zero":false},"axis":null},"y":{"field":"y","type":"quantitative","scale":{"domain":[-1.4032,1.6237],"nice":false,"zero":false},"axis":null},"text":{"field":"d","type":"nominal"}}},
{"data":{"name":"dirs"},"transform":[{"filter":"datum.i>=2&&datum.i<=6"},{"calculate":"datum.i*PI/8","as":"ang"},{"calculate":"1.1*sin(datum.ang)","as":"x"},{"calculate":"1.1*cos(datum.ang)","as":"y"}],"mark":{"type":"text","align":"left","baseline":"middle","fill":"#000"},"encoding":{"x":{"field":"x","type":"quantitative","scale":{"domain":[-1.5715,1.2027],"nice":false,"zero":false},"axis":null},"y":{"field":"y","type":"quantitative","scale":{"domain":[-1.4032,1.6237],"nice":false,"zero":false},"axis":null},"text":{"field":"d","type":"nominal"}}},
{"data":{"name":"dirs"},"transform":[{"filter":"datum.i==9||datum.i==15"},{"calculate":"datum.i*PI/8","as":"ang"},{"calculate":"1.1*sin(datum.ang)","as":"x"},{"calculate":"1.1*cos(datum.ang)","as":"y"}],"mark":{"type":"text","align":"right","baseline":"middle","fill":"#000","dx":-9},"encoding":{"x":{"field":"x","type":"quantitative","scale":{"domain":[-1.5715,1.2027],"nice":false,"zero":false},"axis":null},"y":{"field":"y","type":"quantitative","scale":{"domain":[-1.4032,1.6237],"nice":false,"zero":false},"axis":null},"text":{"field":"d","type":"nominal"}}},
{"data":{"name":"dirs"},"transform":[{"filter":"datum.i>=10&&datum.i<=14"},{"calculate":"datum.i*PI/8","as":"ang"},{"calculate":"1.1*sin(datum.ang)","as":"x"},{"calculate":"1.1*cos(datum.ang)","as":"y"}],"mark":{"type":"text","align":"right","baseline":"middle","fill":"#000","dx":-4},"encoding":{"x":{"field":"x","type":"quantitative","scale":{"domain":[-1.5715,1.2027],"nice":false,"zero":false},"axis":null},"y":{"field":"y","type":"quantitative","scale":{"domain":[-1.4032,1.6237],"nice":false,"zero":false},"axis":null},"text":{"field":"d","type":"nominal"}}},
{"data":{"name":"fticks"},"transform":[{"filter":"datum.v>10"},{"calculate":"datum.v/41.67","as":"y"}],"mark":{"type":"text","align":"right","baseline":"middle","fill":"#4472C4","dy":6},"encoding":{"x":{"datum":-0.061,"type":"quantitative","scale":{"domain":[-1.5715,1.2027],"nice":false,"zero":false},"axis":null},"y":{"field":"y","type":"quantitative","scale":{"domain":[-1.4032,1.6237],"nice":false,"zero":false},"axis":null},"text":{"field":"t","type":"nominal"}}},
{"data":{"name":"fticks"},"transform":[{"filter":"datum.v<10"},{"calculate":"datum.v/41.67","as":"y"}],"mark":{"type":"text","align":"right","baseline":"middle","fill":"#4472C4","dy":15},"encoding":{"x":{"datum":-0.061,"type":"quantitative","scale":{"domain":[-1.5715,1.2027],"nice":false,"zero":false},"axis":null},"y":{"field":"y","type":"quantitative","scale":{"domain":[-1.4032,1.6237],"nice":false,"zero":false},"axis":null},"text":{"field":"t","type":"nominal"}}},
{"data":{"name":"sticks"},"transform":[{"calculate":"-datum.v","as":"y"}],"mark":{"type":"text","align":"left","baseline":"middle","fill":"#ED7D31"},"encoding":{"x":{"datum":0.109,"type":"quantitative","scale":{"domain":[-1.5715,1.2027],"nice":false,"zero":false},"axis":null},"y":{"field":"y","type":"quantitative","scale":{"domain":[-1.4032,1.6237],"nice":false,"zero":false},"axis":null},"text":{"field":"t","type":"nominal"}}},
{"data":{"values":[{}]},"mark":{"type":"rule","stroke":"#4472C4","strokeWidth":3},"encoding":{"x":{"datum":-0.633,"type":"quantitative","scale":{"domain":[-1.5715,1.2027],"nice":false,"zero":false},"axis":null},"x2":{"datum":-0.487},"y":{"datum":1.516,"type":"quantitative","scale":{"domain":[-1.4032,1.6237],"nice":false,"zero":false},"axis":null}}},
{"data":{"values":[{}]},"mark":{"type":"rule","stroke":"#ED7D31","strokeWidth":3},"encoding":{"x":{"datum":0.118,"type":"quantitative","scale":{"domain":[-1.5715,1.2027],"nice":false,"zero":false},"axis":null},"x2":{"datum":0.279},"y":{"datum":1.516,"type":"quantitative","scale":{"domain":[-1.4032,1.6237],"nice":false,"zero":false},"axis":null}}},
{"data":{"values":[{}]},"mark":{"type":"text","align":"left","baseline":"middle","fill":"#000"},"encoding":{"x":{"datum":-0.425,"type":"quantitative","scale":{"domain":[-1.5715,1.2027],"nice":false,"zero":false},"axis":null},"y":{"datum":1.543,"type":"quantitative","scale":{"domain":[-1.4032,1.6237],"nice":false,"zero":false},"axis":null},"text":{"value":"Wind"}}},
{"data":{"values":[{}]},"mark":{"type":"text","align":"left","baseline":"middle","fill":"#000"},"encoding":{"x":{"datum":-0.425,"type":"quantitative","scale":{"domain":[-1.5715,1.2027],"nice":false,"zero":false},"axis":null},"y":{"datum":1.445,"type":"quantitative","scale":{"domain":[-1.4032,1.6237],"nice":false,"zero":false},"axis":null},"text":{"value":"direction"}}},
{"data":{"values":[{}]},"mark":{"type":"text","align":"left","baseline":"middle","fill":"#000"},"encoding":{"x":{"datum":0.346,"type":"quantitative","scale":{"domain":[-1.5715,1.2027],"nice":false,"zero":false},"axis":null},"y":{"datum":1.543,"type":"quantitative","scale":{"domain":[-1.4032,1.6237],"nice":false,"zero":false},"axis":null},"text":{"value":"Wind"}}},
{"data":{"values":[{}]},"mark":{"type":"text","align":"left","baseline":"middle","fill":"#000"},"encoding":{"x":{"datum":0.346,"type":"quantitative","scale":{"domain":[-1.5715,1.2027],"nice":false,"zero":false},"axis":null},"y":{"datum":1.445,"type":"quantitative","scale":{"domain":[-1.4032,1.6237],"nice":false,"zero":false},"axis":null},"text":{"value":"speed"}}},
{"data":{"values":[{}]},"mark":{"type":"text","align":"right","baseline":"middle","fill":"#4472C4"},"encoding":{"x":{"datum":-0.156,"type":"quantitative","scale":{"domain":[-1.5715,1.2027],"nice":false,"zero":false},"axis":null},"y":{"datum":1.145,"type":"quantitative","scale":{"domain":[-1.4032,1.6237],"nice":false,"zero":false},"axis":null},"text":{"value":"Frequency of wind direction"}}},
{"data":{"values":[{}]},"mark":{"type":"text","align":"right","baseline":"middle","fill":"#4472C4"},"encoding":{"x":{"datum":-0.156,"type":"quantitative","scale":{"domain":[-1.5715,1.2027],"nice":false,"zero":false},"axis":null},"y":{"datum":1.054,"type":"quantitative","scale":{"domain":[-1.4032,1.6237],"nice":false,"zero":false},"axis":null},"text":{"value":"which blew from (%)"}}},
{"data":{"values":[{}]},"mark":{"type":"text","align":"left","baseline":"middle","fill":"#ED7D31"},"encoding":{"x":{"datum":0.246,"type":"quantitative","scale":{"domain":[-1.5715,1.2027],"nice":false,"zero":false},"axis":null},"y":{"datum":-1.097,"type":"quantitative","scale":{"domain":[-1.4032,1.6237],"nice":false,"zero":false},"axis":null},"text":{"value":"Wind speed (m/s)"}}},
{"data":{"values":[{}]},"mark":{"type":"text","align":"center","baseline":"middle","fill":"#000","fontSize":26},"encoding":{"x":{"datum":0.01,"type":"quantitative","scale":{"domain":[-1.5715,1.2027],"nice":false,"zero":false},"axis":null},"y":{"datum":-1.306,"type":"quantitative","scale":{"domain":[-1.4032,1.6237],"nice":false,"zero":false},"axis":null},"text":{"value":"(d)"}}}
]}
]
}
